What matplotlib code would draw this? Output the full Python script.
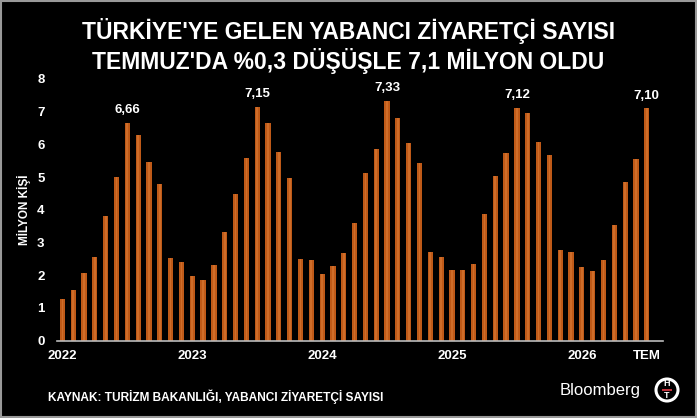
import matplotlib
matplotlib.use("Agg")
import matplotlib.pyplot as plt
from matplotlib.patches import Circle, Rectangle

years = [2022, 2023, 2024, 2025, 2026]
values_2022 = [1.27, 1.55, 2.08, 2.57, 3.82, 4.99, 6.66, 6.29, 5.45, 4.79, 2.54, 2.40]
values_2023 = [1.99, 1.86, 2.32, 3.31, 4.49, 5.57, 7.15, 6.65, 5.76, 4.96, 2.51, 2.47]
values_2024 = [2.03, 2.28, 2.69, 3.59, 5.12, 5.85, 7.33, 6.80, 6.03, 5.42, 2.71, 2.57]
values_2025 = [2.16, 2.16, 2.33, 3.88, 5.03, 5.75, 7.12, 6.95, 6.07, 5.67, 2.78, 2.70]
values_2026 = [2.24, 2.13, 2.47, 3.53, 4.84, 5.54, 7.10]
peak_labels = ["6,66", "7,15", "7,33", "7,12", "7,10"]
tick_labels = ["2022", "2023", "2024", "2025", "2026", "TEM"]
y_ticks = [0, 1, 2, 3, 4, 5, 6, 7, 8]

values = values_2022 + values_2023 + values_2024 + values_2025 + values_2026
x = list(range(len(values)))

W, H = 697, 418
fig = plt.figure(figsize=(W / 100, H / 100), dpi=100, facecolor="black")
ax = fig.add_axes([57 / W, 1 - 340.7 / H, (663 - 57) / W, (340.7 - 79) / H])
ax.set_facecolor("black")

bar_color = "#BF5A18"
ax.bar(x, values, width=0.48, color=bar_color, zorder=2)
# lighter centre highlight to mimic cylinder shading
ax.bar(x, values, width=0.16, color="#E0803A", alpha=0.5, zorder=3)

ax.set_xlim(-0.5, 55.5)
ax.set_ylim(0, 8)
for s in ["top", "right", "left"]:
    ax.spines[s].set_visible(False)
ax.spines["bottom"].set_color("#BBBBBB")
ax.spines["bottom"].set_linewidth(1.2)
ax.spines["bottom"].set_zorder(4)

ax.set_yticks(y_ticks)
ax.set_yticklabels([str(v) for v in y_ticks], color="white", fontsize=9.5,
                   fontweight="bold", family="Liberation Sans")
ax.tick_params(axis="y", length=0, pad=9)

xt = [0, 12, 24, 36, 48, len(values) - 1]
ax.set_xticks(xt)
ax.set_xticklabels(tick_labels, color="white", fontsize=9.5, fontweight="bold",
                   family="Liberation Sans")
ax.tick_params(axis="x", length=0, pad=7)

ax.set_ylabel("MİLYON KİŞİ", color="white", fontsize=8.5, fontweight="bold",
              family="Liberation Sans", labelpad=4)

# peak labels (July of each year)
peak_idx = [6, 18, 30, 42, 54]
for i, lab in zip(peak_idx, peak_labels):
    ax.text(i, values[i] + 0.2, lab, color="white", fontsize=9.5, fontweight="bold",
            ha="center", va="bottom", family="Liberation Sans")

fig.text(0.5, 1 - 31 / H, "TÜRKİYE'YE GELEN YABANCI ZİYARETÇİ SAYISI", color="white",
         fontsize=16.5, fontweight="bold", ha="center", va="center", family="Liberation Sans")
fig.text(0.5, 1 - 61 / H, "TEMMUZ'DA %0,3 DÜŞÜŞLE 7,1 MİLYON OLDU", color="white",
         fontsize=16.5, fontweight="bold", ha="center", va="center", family="Liberation Sans")

fig.text(48 / W, 1 - 397 / H, "KAYNAK: TURİZM BAKANLIĞI, YABANCI ZİYARETÇİ SAYISI",
         color="white", fontsize=8.6, fontweight="bold", ha="left", va="center",
         family="Liberation Sans")
fig.text(641 / W, 1 - 390 / H, "Bloomberg", color="white", fontsize=12,
         ha="right", va="center", family="Liberation Sans")

# HT logo
cx = 667 / W
r = 11
fig.patches.append(Circle((667, H - 390), r, transform=None, fill=False,
                          edgecolor="white", linewidth=2.2))
fig.text(cx, 1 - 384 / H, "H", color="white", fontsize=6.5, fontweight="bold",
         ha="center", va="center", family="Liberation Sans")
fig.text(cx, 1 - 396 / H, "T", color="white", fontsize=6.5, fontweight="bold",
         ha="center", va="center", family="Liberation Sans")
fig.patches.append(Rectangle((662, H - 391), 10, 2, transform=None,
                             facecolor="#C0303A", edgecolor="none"))

# outer border
fig.patches.append(Rectangle((1, 1), W - 2, H - 2, transform=None, fill=False,
                             edgecolor="#999999", linewidth=1.5))

fig.savefig("out.png", dpi=100, facecolor="black")
